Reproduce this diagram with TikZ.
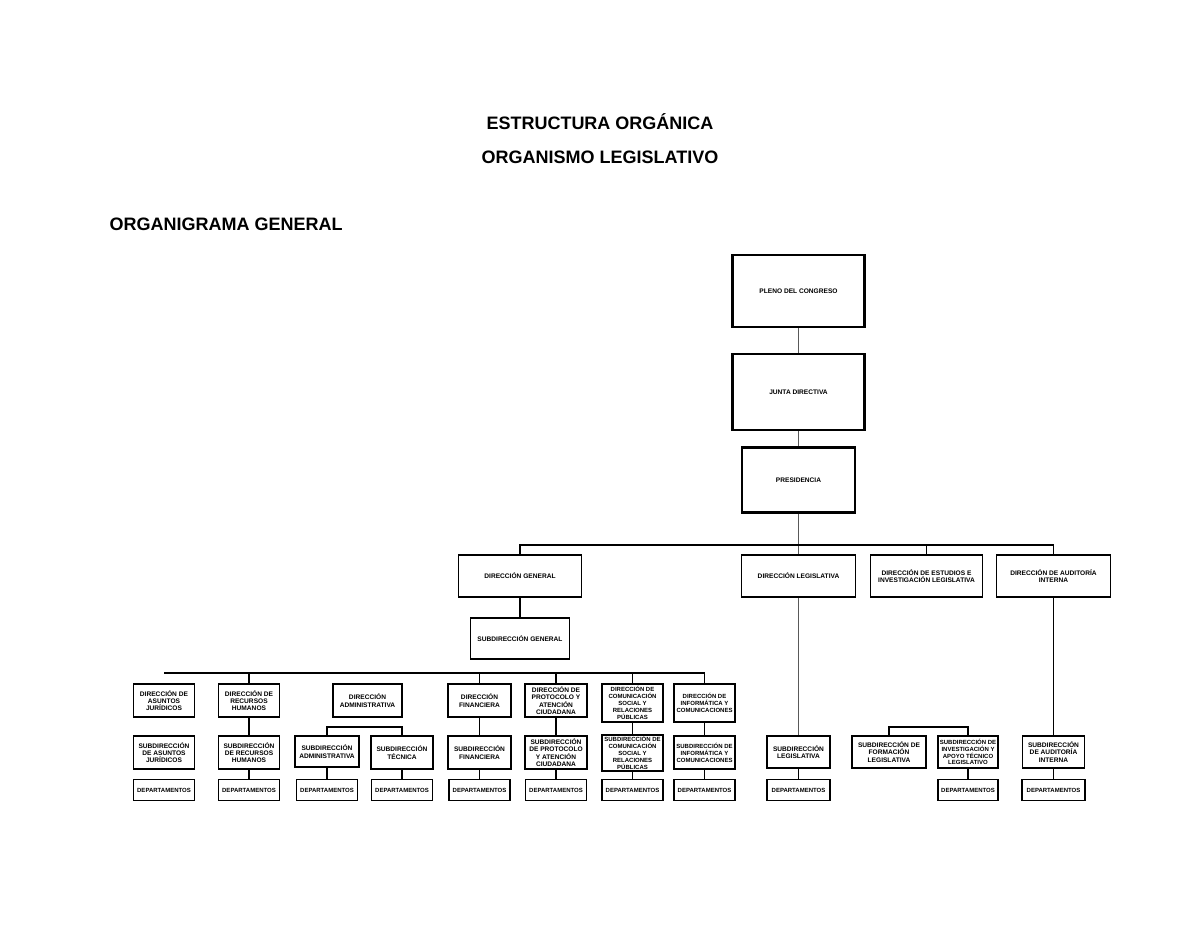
\documentclass[tikz,border=0pt]{standalone}
\usepackage{fontspec}
\setmainfont{Liberation Sans}
\usetikzlibrary{positioning}

\begin{document}
\begin{tikzpicture}[
  x=1pt, y=-1pt,
  every node/.append style={font=\bfseries\fontsize{6.6}{7.4}\selectfont},
  caja/.style={draw=black, line width=1.1pt, align=center, inner sep=1pt},
  cajag/.style={draw=black, line width=2.6pt, align=center, inner sep=1pt,
    minimum width=132, minimum height=72},
  dir/.style={caja, minimum width=61, minimum height=33},
  sub/.style={caja, minimum width=61, minimum height=33},
  depto/.style={caja, chico, minimum width=61, minimum height=21},
  chico/.style={font=\bfseries\fontsize{6}{6.9}\selectfont},
  lin/.style={line width=1.1pt, black},
  ling/.style={line width=1pt, black!65},
  gruesa/.style={line width=2.6pt, black},
  titulo/.style={font=\bfseries\fontsize{18}{21}\selectfont}
]
\useasboundingbox (0,0) rectangle (1200,927);

% Títulos
\node[titulo] (tit1) at (600,122) {ESTRUCTURA ORGÁNICA};
\node[titulo] (tit2) at (600,157) {ORGANISMO LEGISLATIVO};
\node[titulo, anchor=west] (tit3) at (106,224) {ORGANIGRAMA GENERAL};

% Nivel superior
\node[cajag] (pleno) at (798.5,291) {PLENO DEL CONGRESO};
\node[cajag, minimum height=76] (junta) at (798.5,392) {JUNTA DIRECTIVA};
\node[cajag, minimum width=113, minimum height=65] (presi) at (798.5,480) {PRESIDENCIA};

% Direcciones de primer nivel
\node[caja, minimum width=123, minimum height=42] (dirgen) at (520,576) {DIRECCIÓN GENERAL};
\node[caja, minimum width=114, minimum height=42] (dirleg) at (798.5,576) {DIRECCIÓN LEGISLATIVA};
\node[caja, minimum width=112, minimum height=42] (direst) at (926.5,576)
  {DIRECCIÓN DE ESTUDIOS E\\INVESTIGACIÓN LEGISLATIVA};
\node[caja, minimum width=114, minimum height=42] (diraud) at (1053.5,576)
  {DIRECCIÓN DE AUDITORÍA\\INTERNA};
\node[caja, minimum width=99, minimum height=41] (subgen) at (520,638.5) {SUBDIRECCIÓN GENERAL};

% Direcciones bajo la Dirección General
\node[dir] (dirjur) at (164,700.5) {DIRECCIÓN DE\\ASUNTOS\\JURÍDICOS};
\node[dir] (dirrh) at (249,700.5) {DIRECCIÓN DE\\RECURSOS\\HUMANOS};
\node[dir, minimum width=69] (diradm) at (367.5,700.5) {DIRECCIÓN\\ADMINISTRATIVA};
\node[dir, minimum width=63] (dirfin) at (479.5,700.5) {DIRECCIÓN\\FINANCIERA};
\node[dir, minimum width=62] (dirpro) at (556,700.5) {DIRECCIÓN DE\\PROTOCOLO Y\\ATENCIÓN\\CIUDADANA};
\node[dir, chico, minimum height=38] (dircom) at (632.5,703)
  {DIRECCIÓN DE\\COMUNICACIÓN\\SOCIAL Y\\RELACIONES\\PÚBLICAS};
\node[dir, chico, minimum height=38] (dirinf) at (704.5,703)
  {DIRECCIÓN DE\\INFORMÁTICA Y\\COMUNICACIONES};

% Subdirecciones
\node[sub] (subjur) at (164,752.5) {SUBDIRECCIÓN\\DE ASUNTOS\\JURÍDICOS};
\node[sub] (subrh) at (249,752.5) {SUBDIRECCIÓN\\DE RECURSOS\\HUMANOS};
\node[sub, minimum width=64, minimum height=31] (subadm) at (327,751.5) {SUBDIRECCIÓN\\ADMINISTRATIVA};
\node[sub, minimum width=62] (subtec) at (402,752.5) {SUBDIRECCIÓN\\TÉCNICA};
\node[sub, minimum width=63] (subfin) at (479.5,752.5) {SUBDIRECCIÓN\\FINANCIERA};
\node[sub, minimum width=62] (subpro) at (556,752.5) {SUBDIRECCIÓN\\DE PROTOCOLO\\Y ATENCIÓN\\CIUDADANA};
\node[sub, chico, minimum height=36] (subcom) at (632.5,753)
  {SUBDIRECCIÓN DE\\COMUNICACIÓN\\SOCIAL Y\\RELACIONES\\PÚBLICAS};
\node[sub, chico] (subinf) at (704.5,752.5) {SUBDIRECCIÓN DE\\INFORMÁTICA Y\\COMUNICACIONES};
\node[sub, minimum width=63, minimum height=32] (subleg) at (798.5,752) {SUBDIRECCIÓN\\LEGISLATIVA};
\node[sub, minimum width=74, minimum height=32] (subfor) at (889,752) {SUBDIRECCIÓN DE\\FORMACIÓN\\LEGISLATIVA};
\node[sub, chico, minimum width=60, minimum height=32] (subinv) at (968,752)
  {SUBDIRECCIÓN DE\\INVESTIGACIÓN Y\\APOYO TÉCNICO\\LEGISLATIVO};
\node[sub, minimum width=62, minimum height=32] (subaud) at (1053.5,752) {SUBDIRECCIÓN\\DE AUDITORÍA\\INTERNA};

% Departamentos, todos en la misma fila
\foreach \n in {jur,rh,adm,tec,fin,pro,com,inf}
  \node[depto] (dep\n) at (sub\n.south |- 0,790) {DEPARTAMENTOS};
\node[depto, minimum width=63] (depleg) at (subleg.south |- 0,790) {DEPARTAMENTOS};
\node[depto, minimum width=60] (depinv) at (subinv.south |- 0,790) {DEPARTAMENTOS};
\node[depto, minimum width=63] (depaud) at (subaud.south |- 0,790) {DEPARTAMENTOS};

% Línea de mando superior
\draw[ling] (pleno) -- (junta);
\draw[ling] (junta) -- (presi);
\draw[ling] (presi) -- (dirleg);
\draw[ling] (dirleg) -- (subleg);

% Barra de direcciones
\coordinate (barra1) at (520,545);
\coordinate (barra2) at (1053.5,545);
\draw[lin] (dirgen.north) -- (barra1) -- (barra2) -- (diraud.north);
\draw[lin] (direst.north) -- (direst.north |- barra1);
\draw[gruesa] (dirgen) -- (subgen);
\draw[lin] (diraud) -- (subaud);

% Barra bajo la Subdirección General
\coordinate (barra3) at (164,673);
\coordinate (barra4) at (704.5,673);
\draw[lin] (barra3) -- (barra4) -- (dirinf.north);
\foreach \n in {rh,fin,pro,com}
  \draw[lin] (dir\n.north) -- (dir\n.north |- barra3);

% Dirección -> subdirección -> departamentos
\foreach \n in {rh,fin,pro,com,inf}
  \draw[lin] (dir\n) -- (sub\n);
\foreach \n in {rh,adm,tec,fin,pro,com,inf,leg,inv,aud}
  \draw[lin] (sub\n) -- (dep\n);

% Corchetes de subdirecciones
\coordinate (cadm) at (327,727);
\draw[lin] (subadm.north) -- (cadm) -- (subtec.north |- cadm) -- (subtec.north);
\coordinate (cest) at (889,727);
\draw[lin] (subfor.north) -- (cest) -- (subinv.north |- cest) -- (subinv.north);
\end{tikzpicture}
\end{document}
